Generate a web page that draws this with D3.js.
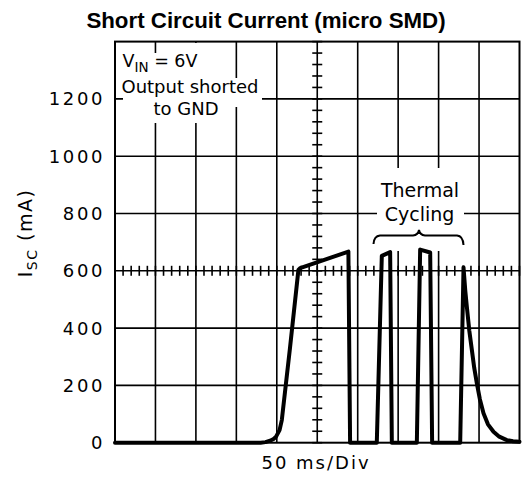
<!DOCTYPE html>
<html>
<head>
<meta charset="utf-8">
<script src="https://cdn.jsdelivr.net/npm/d3@7"></script>
<style>
  html, body { margin: 0; padding: 0; background: #fff; }
  svg { display: block; }
  text { font-family: "DejaVu Sans", sans-serif; fill: #000; }
</style>
</head>
<body>
<script>
// ---- data (time in ms, current in mA) ----
const timeMs = [0, 180, 186, 191.7, 196, 199.1, 203.4, 206.2, 216.4, 226.7, 228.8, 288.5, 290.6,
  323.6, 329.8, 340.1, 342.2, 373.1, 377.2, 389.6, 392.0,
  426.7, 430.8, 433, 434.9, 438, 441.1, 444, 447.3, 451, 455.5, 461, 467.9, 475, 484.4, 492, 500];
const currentMa = [0, 0, 2, 7, 13, 21, 44, 79, 333, 603, 609, 667, 0,
  0, 652, 665, 0, 0, 674, 664, 0,
  0, 612, 530, 475, 390, 324, 262, 207, 152, 103, 64, 38, 21, 9, 5, 3];
const yTickValues = [0, 200, 400, 600, 800, 1000, 1200];
const yTickLabels = ["0", "200", "400", "600", "800", "1000", "1200"];
const xGridValues = [50, 100, 150, 200, 250, 300, 350, 400, 450];
const yGridValues = [200, 400, 600, 800, 1000, 1200];
const xMinorValues = d3.range(0, 501, 10);
const yMinorValues = d3.range(0, 1401, 40);

const W = 523, H = 482;
const x = d3.scaleLinear().domain([0, 500]).range([115, 519.5]);
const y = d3.scaleLinear().domain([0, 1400]).range([442.7, 41.6]);

const svg = d3.select("body").append("svg").attr("width", W).attr("height", H);

// title
svg.append("text").attr("x", 266).attr("y", 28).attr("text-anchor", "middle")
  .style("font-family", "'Liberation Sans', Arial, sans-serif")
  .style("font-weight", "bold").style("font-size", "22.3px")
  .text("Short Circuit Current (micro SMD)");

const g = svg.append("g");
// grid
g.selectAll(".vg").data(xGridValues).enter().append("line")
  .attr("x1", d => x(d)).attr("x2", d => x(d)).attr("y1", y(1400)).attr("y2", y(0))
  .attr("stroke", "#000").attr("stroke-width", 1.6);
g.selectAll(".hg").data(yGridValues).enter().append("line")
  .attr("x1", x(0)).attr("x2", x(500)).attr("y1", d => y(d)).attr("y2", d => y(d))
  .attr("stroke", "#000").attr("stroke-width", 1.6);
// minor ticks on centre axes
g.selectAll(".xm").data(xMinorValues).enter().append("line")
  .attr("x1", d => x(d)).attr("x2", d => x(d)).attr("y1", y(600) - 5).attr("y2", y(600) + 5)
  .attr("stroke", "#000").attr("stroke-width", 1.6);
g.selectAll(".ym").data(yMinorValues).enter().append("line")
  .attr("y1", d => y(d)).attr("y2", d => y(d)).attr("x1", x(250) - 5).attr("x2", x(250) + 5)
  .attr("stroke", "#000").attr("stroke-width", 1.6);

// white masks behind annotations
const masks = [[160, 43, 44, 35], [118, 53, 86, 25], [123, 78, 139, 29], [140, 107, 86, 16], [377, 168, 87, 83]];
g.selectAll(".mask").data(masks).enter().append("rect")
  .attr("x", d => d[0]).attr("y", d => d[1]).attr("width", d => d[2]).attr("height", d => d[3])
  .attr("fill", "#fff");

// frame
g.append("rect").attr("x", x(0)).attr("y", y(1400)).attr("width", x(500) - x(0)).attr("height", y(0) - y(1400))
  .attr("fill", "none").attr("stroke", "#000").attr("stroke-width", 2);

// y tick labels
svg.selectAll(".yl").data(yTickValues).enter().append("text")
  .attr("x", 105).attr("y", d => y(d)).attr("dy", "0.36em").attr("text-anchor", "end")
  .style("font-size", "18px").style("letter-spacing", "2.6px")
  .text((d, i) => yTickLabels[i]);

// trace
const pts = timeMs.map((t, i) => [t, currentMa[i]]);
g.append("path").datum(pts)
  .attr("d", d3.line().x(d => x(d[0])).y(d => y(d[1])))
  .attr("fill", "none").attr("stroke", "#000").attr("stroke-width", 4)
  .attr("stroke-linejoin", "round").attr("stroke-linecap", "round");

// annotations
const vin = svg.append("text").attr("x", 160).attr("y", 67).attr("text-anchor", "middle").style("font-size", "17.5px");
vin.append("tspan").text("V");
vin.append("tspan").attr("dy", 5).style("font-size", "13.5px").text("IN");
vin.append("tspan").attr("dy", -5).text(" = 6V");
svg.append("text").attr("x", 190).attr("y", 92.7).attr("text-anchor", "middle").style("font-size", "18px").text("Output shorted");
svg.append("text").attr("x", 186).attr("y", 115).attr("text-anchor", "middle").style("font-size", "18px").text("to GND");
svg.append("text").attr("x", 420).attr("y", 197).attr("text-anchor", "middle").style("font-size", "19px").text("Thermal");
svg.append("text").attr("x", 419.5).attr("y", 221).attr("text-anchor", "middle").style("font-size", "19px").text("Cycling");

// brace
g.append("path")
  .attr("d", "M373.5,244 Q374,236 380,235.5 L413,235.5 Q418,235 419,230 Q420,235 425,235.5 L457,235.5 Q463,236 463.5,245")
  .attr("fill", "none").attr("stroke", "#000").attr("stroke-width", 2);

// x axis label
svg.append("text").attr("x", 316).attr("y", 469).attr("text-anchor", "middle")
  .style("font-size", "18px").style("letter-spacing", "2px").text("50 ms/Div");

// y axis label
const yl = svg.append("text").attr("transform", "translate(32,233) rotate(-90)")
  .attr("text-anchor", "middle").style("font-size", "19px").style("letter-spacing", "1.5px");
yl.append("tspan").text("I");
yl.append("tspan").attr("dy", 5).style("font-size", "14px").text("SC");
yl.append("tspan").attr("dy", -5).text("  (mA)");
</script>
</body>
</html>
